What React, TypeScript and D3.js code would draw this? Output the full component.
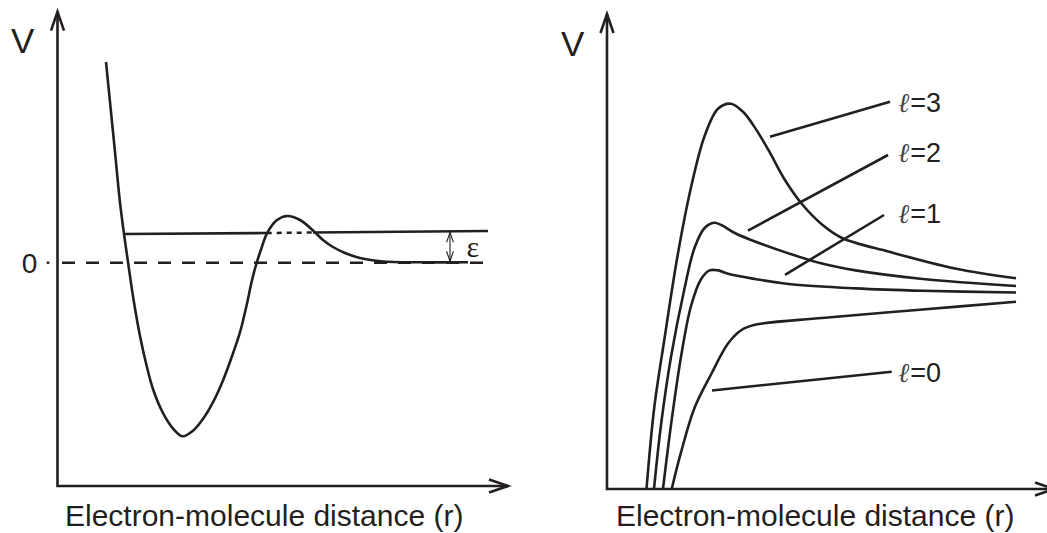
import React, { useEffect } from 'react';
import * as d3 from 'd3';

const W = 1047;
const H = 533;
const INK = '#231f20';
const FONT = '"Liberation Sans", Arial, Helvetica, sans-serif';

// ---------- Left panel: potential with barrier (r, V) ----------
const leftCurveR = [1.078, 1.167, 1.278, 1.389, 1.478, 1.573, 1.684, 1.833, 1.982, 2.129, 2.351, 2.573, 2.782, 3.018, 3.24, 3.462, 3.684, 3.907, 4.056, 4.204, 4.316, 4.427, 4.538, 4.649, 4.871, 5.107, 5.389, 5.678, 5.9, 6.122, 6.389, 6.722, 7.233, 8.056, 9.122];
const leftCurveV = [8.988, 7.19, 4.95, 2.69, 1.285, -0.058, -1.581, -3.283, -4.626, -5.701, -6.758, -7.438, -7.774, -7.515, -6.982, -6.225, -5.24, -4.022, -3.112, -1.894, -0.837, 0, 0.681, 1.29, 1.899, 2.091, 1.912, 1.442, 1.017, 0.703, 0.434, 0.21, 0.054, 0.018, 0.018];

// resonance energy level (start, barrier-in, barrier-out, end)
const levelR = [1.478, 4.649, 5.678, 9.567];
const levelV = [1.285, 1.33, 1.35, 1.42];

// zero line
const zeroLineR = [0.1, 9.567];
const zeroDotR = [-0.24, -0.18];
const epsArrowR = 8.722;
const epsArrowV = [0.02, 1.4];
const epsLabel = 'ε';
const epsLabelPos = [9.23, 0.27];
const zeroTick = '0';

// ---------- Right panel: effective potential for partial waves ----------
const ellNames = ['ℓ=0', 'ℓ=1', 'ℓ=2', 'ℓ=3'];

const l0R = [1.438, 1.644, 1.944, 2.318, 2.689, 2.989, 3.287, 4.778, 7.016, 9.089];
const l0V = [0, 0.813, 1.8, 2.556, 3.233, 3.533, 3.649, 3.8, 3.989, 4.162];

const l1R = [1.244, 1.422, 1.644, 1.867, 2.093, 2.28, 2.467, 2.689, 3.287, 4.033, 5.524, 7.016, 9.089];
const l1V = [0, 1.422, 2.933, 4.067, 4.667, 4.858, 4.858, 4.782, 4.667, 4.556, 4.458, 4.404, 4.367];

const l2R = [1.044, 1.2, 1.422, 1.72, 1.944, 2.169, 2.378, 2.54, 2.84, 3.287, 4.033, 4.778, 5.524, 7.016, 9.089];
const l2V = [0, 1.422, 2.933, 4.444, 5.356, 5.8, 5.916, 5.867, 5.689, 5.5, 5.236, 5.009, 4.858, 4.667, 4.511];

const l3R = [0.878, 1.049, 1.273, 1.571, 1.869, 2.169, 2.467, 2.749, 3.027, 3.287, 3.584, 3.958, 4.331, 4.778, 5.224, 6.269, 7.76, 9.089];
const l3V = [0, 1.8, 3.311, 5.2, 6.711, 7.844, 8.449, 8.562, 8.378, 8.031, 7.54, 6.86, 6.333, 5.878, 5.578, 5.273, 4.896, 4.684];

// leader lines for ℓ=0..3
const leaderStartR = [2.333, 3.956, 3.133, 3.622];
const leaderStartV = [2.189, 4.76, 5.742, 7.829];
const leaderEndR = [6.327, 6.156, 6.244, 6.289];
const leaderEndV = [2.607, 6.089, 7.422, 8.607];
const labelR = [6.466, 6.466, 6.466, 6.466];
const labelV = [2.378, 5.911, 7.267, 8.384];

const axisTitle = 'Electron-molecule distance (r)';
const yTitle = 'V';

type Pt = [number, number];
const zip = (a: number[], b: number[]): Pt[] => a.map((v, i) => [v, b[i]]);

function Arrowhead({ x, y, dir, len, half, sw }: { x: number; y: number; dir: 'up' | 'down' | 'right'; len: number; half: number; sw: number }) {
  let d = '';
  if (dir === 'up') d = `M${x - half},${y + len}L${x},${y}L${x + half},${y + len}`;
  if (dir === 'down') d = `M${x - half},${y - len}L${x},${y}L${x + half},${y - len}`;
  if (dir === 'right') d = `M${x - len},${y - half}L${x},${y}L${x - len},${y + half}`;
  return <path d={d} fill="none" stroke={INK} strokeWidth={sw} strokeLinejoin="miter" />;
}

export default function App() {
  useEffect(() => {
    document.body.style.margin = '0';
  }, []);

  // scales
  const xL = d3.scaleLinear().domain([0, 10]).range([57.5, 507.5]);
  const yL = d3.scaleLinear().domain([-10, 10]).range([486, 39.4]);
  const xR = d3.scaleLinear().domain([0, 10]).range([607, 1057]);
  const yR = d3.scaleLinear().domain([0, 10]).range([489, 39]);

  const lineL = d3.line<Pt>().x((d) => xL(d[0])).y((d) => yL(d[1])).curve(d3.curveCatmullRom.alpha(0.5));
  const lineR = d3.line<Pt>().x((d) => xR(d[0])).y((d) => yR(d[1])).curve(d3.curveCatmullRom.alpha(0.5));
  const straightL = d3.line<Pt>().x((d) => xL(d[0])).y((d) => yL(d[1]));

  const sw = 2.6;

  const rightCurves = [zip(l0R, l0V), zip(l1R, l1V), zip(l2R, l2V), zip(l3R, l3V)];

  const axL = { x: xL(0), y: yL(-10), top: 11.7, right: 508 };
  const axR = { x: xR(0), y: yR(0), top: 14, right: 1054 };

  return (
    <svg width={W} height={H} style={{ position: 'absolute', left: 0, top: 0, display: 'block', background: '#fff' }}>
      {/* ---------------- Left panel ---------------- */}
      <g>
        <path d={`M${axL.x},${axL.top}V${axL.y}H${axL.right}`} fill="none" stroke={INK} strokeWidth={sw} />
        <Arrowhead x={axL.x} y={axL.top} dir="up" len={19} half={6.5} sw={sw} />
        <Arrowhead x={axL.right} y={axL.y} dir="right" len={19} half={6.5} sw={sw} />
        <text x={11} y={53} fontFamily={FONT} fontSize={35} fill={INK}>{yTitle}</text>
        <text x={xL(0) + 7.5} y={526} fontFamily={FONT} fontSize={30} fill={INK}>{axisTitle}</text>

        {/* zero line */}
        <text x={xL(-0.62)} y={yL(0) + 10.5} fontFamily={FONT} fontSize={28} fill={INK} textAnchor="middle">{zeroTick}</text>
        <path d={straightL(zip(zeroDotR, [0, 0])) || ''} stroke={INK} strokeWidth={2.4} />
        <path d={straightL(zip(zeroLineR, [0, 0])) || ''} stroke={INK} strokeWidth={2.4} strokeDasharray="13 11" />

        {/* energy level */}
        <path d={straightL([[levelR[0], levelV[0]], [levelR[1], levelV[1]]]) || ''} stroke={INK} strokeWidth={sw} fill="none" />
        <path d={straightL([[levelR[1], levelV[1]], [levelR[2], levelV[2]]]) || ''} stroke={INK} strokeWidth={2.5} fill="none" strokeDasharray="5 5" />
        <path d={straightL([[levelR[2], levelV[2]], [levelR[3], levelV[3]]]) || ''} stroke={INK} strokeWidth={sw} fill="none" />

        {/* potential curve */}
        <path d={lineL(zip(leftCurveR, leftCurveV)) || ''} fill="none" stroke={INK} strokeWidth={sw} />

        {/* epsilon double arrow */}
        <line x1={xL(epsArrowR)} x2={xL(epsArrowR)} y1={yL(epsArrowV[0])} y2={yL(epsArrowV[1])} stroke={INK} strokeWidth={1.1} />
        <Arrowhead x={xL(epsArrowR)} y={yL(epsArrowV[1]) + 1} dir="up" len={10} half={3.4} sw={1.1} />
        <Arrowhead x={xL(epsArrowR)} y={yL(epsArrowV[0]) - 1} dir="down" len={10} half={3.4} sw={1.1} />
        <text x={xL(epsLabelPos[0])} y={yL(epsLabelPos[1])} fontFamily='"Liberation Serif", "Times New Roman", serif' fontSize={30} fill={INK} textAnchor="middle">{epsLabel}</text>
      </g>

      {/* ---------------- Right panel ---------------- */}
      <g>
        <path d={`M${axR.x},${axR.top}V${axR.y}H${axR.right}`} fill="none" stroke={INK} strokeWidth={sw} />
        <Arrowhead x={axR.x} y={axR.top} dir="up" len={19} half={6.5} sw={sw} />
        <Arrowhead x={axR.right} y={axR.y} dir="right" len={19} half={6.5} sw={sw} />
        <text x={561} y={56} fontFamily={FONT} fontSize={35} fill={INK}>{yTitle}</text>
        <text x={xR(0) + 9} y={526} fontFamily={FONT} fontSize={30} fill={INK}>{axisTitle}</text>

        {rightCurves.map((c, i) => (
          <path key={`c${i}`} d={lineR(c) || ''} fill="none" stroke={INK} strokeWidth={sw} />
        ))}

        {ellNames.map((name, i) => (
          <g key={`l${i}`}>
            <line x1={xR(leaderStartR[i])} y1={yR(leaderStartV[i])} x2={xR(leaderEndR[i])} y2={yR(leaderEndV[i])} stroke={INK} strokeWidth={sw} />
            <text x={xR(labelR[i])} y={yR(labelV[i])} fontFamily={FONT} fontSize={27} fill={INK}>
              <tspan fontFamily='"DejaVu Serif", serif' fontStyle="italic" fontWeight={300} fill="#444">{name.slice(0, 1)}</tspan>
              <tspan dx={1}>{name.slice(1)}</tspan>
            </text>
          </g>
        ))}
      </g>
    </svg>
  );
}
